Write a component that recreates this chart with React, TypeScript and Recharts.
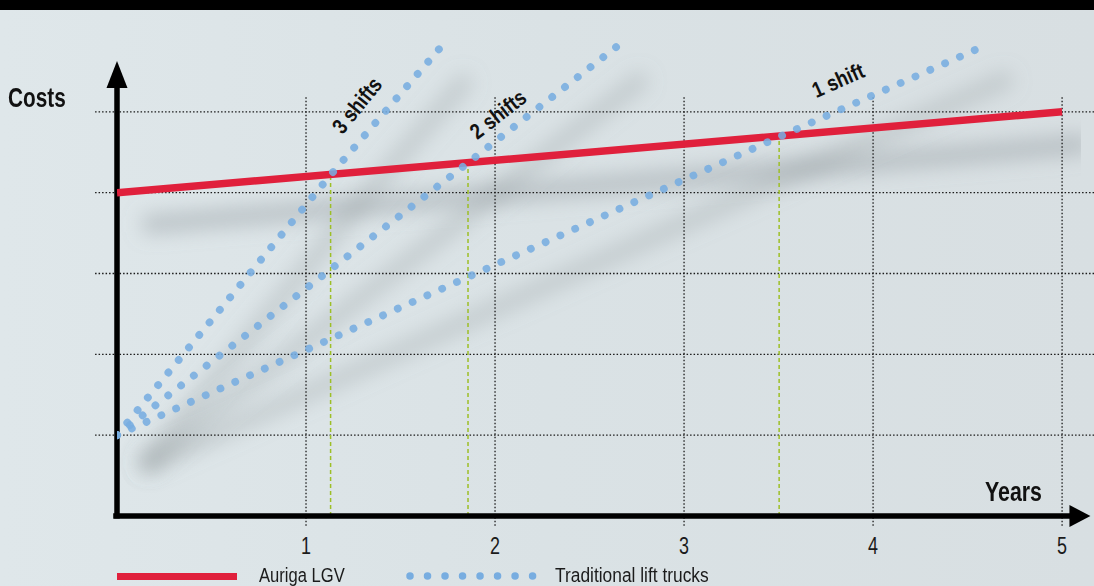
import React from 'react';
import { LineChart, Line, XAxis, YAxis, ReferenceLine, ReferenceDot } from 'recharts';

// ---- data ----
const yearTicks = [1, 2, 3, 4, 5];
const costGrid = [1, 2, 3, 4, 5];
const aurigaLGV = [
  { x: 0, y: 4.0 },
  { x: 5, y: 5.0 },
];
const threeShifts = [
  { x: 0, y: 1.0 },
  { x: 1.13, y: 4.22 },
  { x: 1.72, y: 5.82 },
];
const twoShifts = [
  { x: 0, y: 1.0 },
  { x: 1.857, y: 4.37 },
  { x: 2.656, y: 5.83 },
];
const oneShift = [
  { x: 0, y: 1.0 },
  { x: 3.503, y: 4.69 },
  { x: 4.593, y: 5.82 },
];
const breakEvens = [
  { x: 1.13, y: 4.226 },
  { x: 1.857, y: 4.371 },
  { x: 3.503, y: 4.7 },
];
const shiftLabels = [
  { text: '3 shifts', x: 1.27, y: 5.08, angle: -51 },
  { text: '2 shifts', x: 2.016, y: 4.97, angle: -38 },
  { text: '1 shift', x: 3.815, y: 5.39, angle: -24 },
];
const legendItems = ['Auriga LGV', 'Traditional lift trucks'];

const FONT = "'Liberation Sans', Arial, sans-serif";
const RED = '#e0203c';
const BLUE = '#78ade0';
const GREEN = '#9dbf26';
const GRID = '#1a1a1a';

const YearTick = (props: any) => {
  const { x, y, payload } = props;
  return (
    <text transform={`translate(${x} ${y + 30}) scale(0.78 1)`} x={0} y={0} textAnchor="middle" fontFamily={FONT} fontSize={23} fill="#1b1b1b">
      {payload.value}
    </text>
  );
};

const arrowRight = (p: any) => (
  <polygon points={`${p.cx - 4},${p.cy - 11} ${p.cx + 17},${p.cy} ${p.cx - 4},${p.cy + 11}`} fill="#000" />
);
const arrowUp = (p: any) => (
  <polygon points={`${p.cx - 10.5},${p.cy} ${p.cx + 10.5},${p.cy} ${p.cx},${p.cy - 27}`} fill="#000" />
);

const squeezed = (scale: number): React.CSSProperties => ({
  transform: `scaleX(${scale})`,
  transformOrigin: 'left top',
  whiteSpace: 'nowrap',
});

export default function App() {
  const series = [threeShifts, twoShifts, oneShift];
  return (
    <div style={{ position: 'absolute', left: 0, top: 0, width: 1094, height: 586, overflow: 'hidden', background: 'linear-gradient(90deg, #dfe7ea 0%, #dae2e5 50%, #d8dfe2 100%)' }}>
      <div style={{ position: 'absolute', left: 0, top: 0, width: 1094, height: 10, background: '#000' }} />
      <LineChart width={1094} height={586} margin={{ top: 31, right: 13, bottom: 40, left: 117 }} style={{ position: 'absolute', left: 0, top: 0 }}>
        <defs>
          <filter id="softShadow" filterUnits="userSpaceOnUse" x="0" y="0" width="1094" height="586">
            <feOffset dx="26" dy="32" />
            <feGaussianBlur stdDeviation="10" />
          </filter>
        </defs>
        <XAxis type="number" dataKey="x" domain={[0, 5.1]} ticks={yearTicks} axisLine={false} tickLine={false} height={30} tick={<YearTick />} allowDataOverflow />
        <YAxis type="number" dataKey="y" domain={[0, 6]} hide allowDataOverflow />

        {/* soft shadows */}
        <Line data={aurigaLGV} dataKey="y" stroke="#8c9498" strokeOpacity={0.45} strokeWidth={18} dot={false} isAnimationActive={false} filter="url(#softShadow)" />
        {series.map((d, i) => (
          <Line key={'s' + i} data={d} dataKey="y" stroke="#8c9498" strokeOpacity={0.33} strokeWidth={16} dot={false} isAnimationActive={false} filter="url(#softShadow)" />
        ))}

        {/* grid */}
        {costGrid.map((c) => (
          <ReferenceLine key={'h' + c} segment={[{ x: -0.116, y: c }, { x: 5.3, y: c }]} stroke={GRID} strokeWidth={1.3} strokeDasharray="1.5 2" ifOverflow="visible" />
        ))}
        {yearTicks.map((t) => (
          <ReferenceLine key={'v' + t} segment={[{ x: t, y: -0.12 }, { x: t, y: 5.18 }]} stroke={GRID} strokeWidth={1.3} strokeDasharray="1.5 2" ifOverflow="visible" />
        ))}

        {/* break-even verticals */}
        {breakEvens.map((b, i) => (
          <ReferenceLine key={'g' + i} segment={[{ x: b.x, y: 0 }, { x: b.x, y: b.y }]} stroke={GREEN} strokeWidth={1.5} strokeDasharray="4 3" ifOverflow="visible" />
        ))}

        {/* axes */}
        <ReferenceLine segment={[{ x: -0.02, y: 0 }, { x: 5.06, y: 0 }]} stroke="#000" strokeWidth={5.5} ifOverflow="visible" />
        <ReferenceDot x={5.06} y={0} r={0} ifOverflow="visible" shape={arrowRight} />
        <ReferenceLine segment={[{ x: 0, y: -0.03 }, { x: 0, y: 5.3 }]} stroke="#000" strokeWidth={5.5} ifOverflow="visible" />
        <ReferenceDot x={0} y={5.295} r={0} ifOverflow="visible" shape={arrowUp} />

        {/* series */}
        <Line data={aurigaLGV} dataKey="y" stroke={RED} strokeWidth={7.5} dot={false} isAnimationActive={false} />
        {series.map((d, i) => (
          <Line key={'b' + i} data={d} dataKey="y" stroke={BLUE} strokeOpacity={0.88} strokeWidth={7.8} strokeLinecap="round" strokeDasharray="0.01 16.2" dot={false} isAnimationActive={false} />
        ))}

        {shiftLabels.map((l, i) => (
          <ReferenceDot key={'l' + i} x={l.x} y={l.y} r={0} ifOverflow="visible" shape={(p: any) => (
            <text transform={`translate(${p.cx} ${p.cy}) rotate(${l.angle}) scale(0.84 1)`} x={0} y={0} textAnchor="middle" dominantBaseline="central" fontFamily={FONT} fontWeight="bold" fontSize={22} fill="#111">
              {l.text}
            </text>
          )} />
        ))}
      </LineChart>

      <div style={{ position: 'absolute', left: 8, top: 82, fontFamily: FONT, fontWeight: 'bold', fontSize: 27, color: '#111', lineHeight: '32px', ...squeezed(0.77) }}>Costs</div>
      <div style={{ position: 'absolute', left: 985, top: 476, fontFamily: FONT, fontWeight: 'bold', fontSize: 27, color: '#111', lineHeight: '32px', ...squeezed(0.79) }}>Years</div>

      {/* legend */}
      <div style={{ position: 'absolute', left: 117, top: 573, width: 120, height: 7, background: RED }} />
      <div style={{ position: 'absolute', left: 259, top: 566, fontFamily: FONT, fontSize: 19.5, color: '#1b1b1b', lineHeight: '19px', ...squeezed(0.85) }}>{legendItems[0]}</div>
      <svg style={{ position: 'absolute', left: 400, top: 566 }} width={150} height={20}>
        <line x1={10} y1={10} x2={133} y2={10} stroke={BLUE} strokeWidth={7.5} strokeLinecap="round" strokeDasharray="0.01 17.5" />
      </svg>
      <div style={{ position: 'absolute', left: 555, top: 566, fontFamily: FONT, fontSize: 19.5, color: '#1b1b1b', lineHeight: '19px', ...squeezed(0.89) }}>{legendItems[1]}</div>
    </div>
  );
}
